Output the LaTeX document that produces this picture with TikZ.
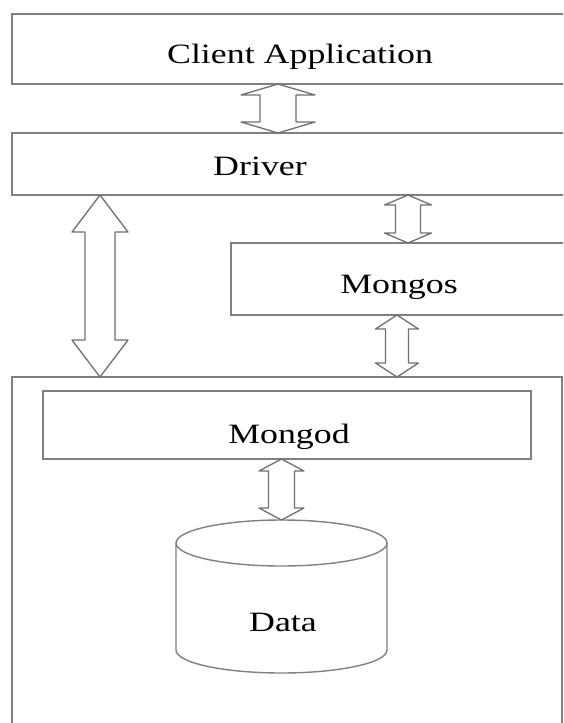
\documentclass[tikz,border=0pt]{standalone}
\usepackage{fontspec}
\setmainfont{Liberation Serif}[FakeStretch=1.28]
\usetikzlibrary{calc}
\definecolor{linegray}{RGB}{128,128,128}
\definecolor{arrowgray}{RGB}{112,112,112}
\tikzset{
  layer/.style={draw=linegray, line width=1.8pt, outer sep=0pt, inner sep=0pt, anchor=north west},
  lbl/.style={anchor=base, inner sep=0pt, text=black, font=\fontsize{28}{33}\selectfont},
  dbline/.style={draw=linegray, line width=1.4pt},
  dblarrow/.style n args={3}{draw=arrowgray, fill=white, line width=1.3pt, line join=round,
    to path={let \p1=(\tikztostart), \p2=(\tikztotarget) in
      (\x1,\y1) -- (\x1+#2,\y1-#3) -- (\x1+#1,\y1-#3) -- (\x1+#1,\y2+#3) -- (\x1+#2,\y2+#3)
      -- (\x1,\y2) -- (\x1-#2,\y2+#3) -- (\x1-#1,\y2+#3) -- (\x1-#1,\y1-#3) -- (\x1-#2,\y1-#3) -- cycle}},
}
\begin{document}
\begin{tikzpicture}[x=1pt, y=-1pt]
  \useasboundingbox (0,0) rectangle (563,723);
  \clip (0,0) rectangle (563,723);

  \node[layer, minimum width=600, minimum height=70] (client) at (12,14) {};
  \node[layer, minimum width=600, minimum height=62] (driver) at (12,133) {};
  \node[layer, minimum width=380, minimum height=72] (mongos) at (231,243) {};
  \node[layer, minimum width=550, minimum height=400] (server) at (12,377) {};
  \node[layer, minimum width=488, minimum height=68] (mongod) at (43,391) {};

  \node[lbl] (clientlbl) at (300,63) {Client Application};
  \node[lbl] (driverlbl) at (260,175) {Driver};
  \node[lbl] (mongoslbl) at (399,293) {Mongos};
  \node[lbl] (mongodlbl) at (289,443) {Mongod};
  \node[lbl] (datalbl) at (283,631) {Data};

  \coordinate (dbtop) at (281.5,520);
  \draw[dbline] (176,543) -- (176,650) arc[start angle=180, end angle=360, x radius=105.5pt, y radius=23pt] -- (387,543);
  \draw[dbline] (281.5,543) ellipse [x radius=105.5pt, y radius=23pt];

  \draw[dblarrow={18}{37}{11}] (278,0 |- client.south) to (278,0 |- driver.north);
  \draw[dblarrow={15}{28}{37}] (100,0 |- driver.south) to (100,0 |- server.north);
  \draw[dblarrow={12.5}{23.5}{10}] (408,0 |- driver.south) to (408,0 |- mongos.north);
  \draw[dblarrow={11.5}{21.5}{14}] (397,0 |- mongos.south) to (397,0 |- server.north);
  \draw[dblarrow={13}{22.5}{12}] (281.5,0 |- mongod.south) to (dbtop);
\end{tikzpicture}
\end{document}
